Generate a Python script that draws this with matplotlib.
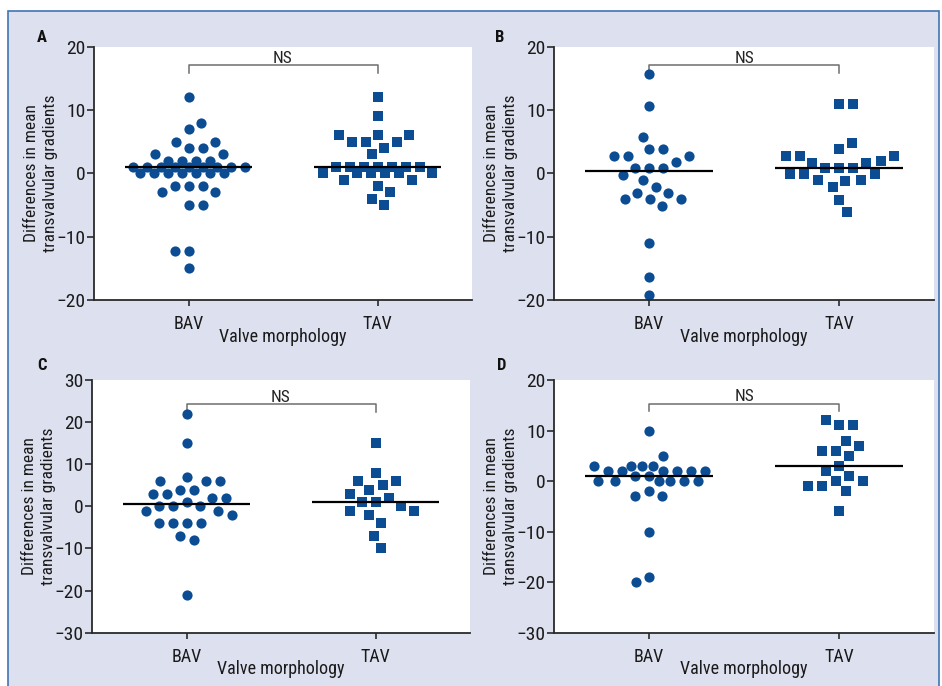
import numpy as np
import matplotlib
matplotlib.use("Agg")
import matplotlib.pyplot as plt
from matplotlib import font_manager
from matplotlib.patches import Rectangle
from matplotlib.transforms import ScaledTranslation

# condensed font if there is one
names = {f.name for f in font_manager.fontManager.ttflist}
fam = "Liberation Sans"
for cand in ["Liberation Sans Narrow", "Roboto Condensed", "Liberation Sans"]:
    if cand in names:
        fam = cand
        break
plt.rcParams["font.family"] = [fam, "DejaVu Sans"]
fs = 13 if fam != "Liberation Sans" else 12

groups = ["BAV", "TAV"]

# differences in mean transvalvular gradients
a_bav = [12, 8, 7, 5, 5, 4, 4, 3, 3, 2, 2, 2, 2, 1, 1, 1, 1, 1, 1, 1, 1, 1,
         0, 0, 0, 0, 0, 0, 0, -2, -2, -2, -3, -3, -5, -5, -12.3, -12.3, -15]
a_tav = [12, 9, 6, 6, 6, 5, 5, 5, 4, 3, 1, 1, 1, 1, 1, 1, 1,
         0, 0, 0, 0, 0, 0, -1, -1, -2, -3, -4, -5]
b_bav = [15.7, 10.7, 5.8, 3.8, 3.8, 2.8, 2.8, 2.8, 1.8, 0.9, 0.9, 0.9, -0.2,
         -1.1, -2.1, -3.1, -3.1, -4.1, -4.1, -4.1, -5.1, -11, -16.3, -19.2]
b_tav = [11, 11, 4.8, 3.8, 2.7, 2.7, 2.7, 1.9, 1.7, 1.7, 0.8, 0.8, 0.8,
         -0.1, -0.1, -0.1, -1.1, -1.1, -1.2, -2.2, -4.2, -6.1]
c_bav = [22, 15, 7, 6, 6, 6, 4, 4, 3, 3, 2, 2, 1, 0, 0, 0, -1, -1, -2,
         -4, -4, -4, -4, -7, -8, -21]
c_tav = [15, 8, 6, 6, 5, 4, 3, 2, 1, 1, 0, -1, -1, -2, -4, -7, -10]
d_bav = [10, 5, 3, 3, 3, 3, 2, 2, 2, 2, 2, 2, 1, 1, 0, 0, 0, 0, 0, 0,
         -2, -3, -3, -10, -19, -20]
d_tav = [12, 11, 11, 8, 7, 6, 6, 5, 3, 2, 1, 0, 0, -1, -1, -2, -6]

W, H = 942, 686
BLUE = "#0b4c92"

fig = plt.figure(figsize=(W / 100, H / 100), dpi=100, facecolor="white")
fig.patches.append(Rectangle((8 / W, -0.02), (939 - 8) / W, (H - 11) / H + 0.02,
                             transform=fig.transFigure, facecolor="#dde0ee",
                             edgecolor="#4273b4", lw=1.2, zorder=-10))


def swarm(ax, vals, d=14.0, maxw=58.0):
    # greedy beeswarm in pixels, median rows first, kept inside +-maxw
    sx = ax.bbox.width / np.ptp(ax.get_xlim())
    sy = ax.bbox.height / np.ptp(ax.get_ylim())
    ys = np.asarray(vals, float) * sy
    cand = np.arange(-maxw, maxw + 0.01, 0.5)
    order = np.argsort(np.abs(ys - np.median(ys)), kind="stable")
    px, py = [], []
    offs = np.zeros(len(ys))
    for i in order:
        if px:
            dist = np.sqrt((cand[:, None] - np.array(px)[None, :]) ** 2
                           + (ys[i] - np.array(py)[None, :]) ** 2).min(axis=1)
        else:
            dist = np.full(len(cand), np.inf)
        free = dist >= d
        if free.any():
            # nearest free spot, leaning to the emptier side
            lean = -1e-3 * np.sign(sum(px)) if px else 1e-3
            score = np.abs(cand) - lean * cand
            score[~free] = np.inf
            o = cand[np.argmin(score)]
        else:
            o = cand[np.argmax(dist - 1e-3 * np.abs(cand))]
        px.append(o)
        py.append(ys[i])
        offs[i] = o
    return offs / sx


panels = [
    ("A", 94, 46.7, 300, 378, (-20, 20), [-20, -10, 0, 10, 20], a_bav, a_tav, 17.1, (42, 37)),
    ("B", 554, 46.7, 300, 380, (-20, 20), [-20, -10, 0, 10, 20], b_bav, b_tav, 17.1, (500, 37)),
    ("C", 92, 380, 632.7, 378, (-30, 30), [-30, -20, -10, 0, 10, 20, 30], c_bav, c_tav, 24.3, (42, 365)),
    ("D", 554, 380, 632.7, 380, (-30, 20), [-30, -20, -10, 0, 10, 20], d_bav, d_tav, 15.3, (502, 365)),
]

for letter, left, top, bottom, width, ylim, yticks, bav, tav, ns_y, lpos in panels:
    ax = fig.add_axes([left / W, 1 - bottom / H, width / W, (bottom - top) / H])
    ax.set_facecolor("white")
    ax.set_xlim(-0.5, 1.5)
    ax.set_ylim(*ylim)
    sy = ax.bbox.height / np.ptp(ylim)

    for x0, vals, mk in [(0, bav, "o"), (1, tav, "s")]:
        offs = swarm(ax, vals)
        ax.scatter(x0 + offs, vals, s=54, marker=mk, color=BLUE, lw=0,
                   zorder=2, clip_on=False)
        ax.hlines(np.median(vals), x0 - 0.335, x0 + 0.335, color="black",
                  lw=1.6, zorder=3)

    # NS bracket
    drop = 7.5 / sy
    ax.plot([0, 0, 1, 1], [ns_y - drop, ns_y, ns_y, ns_y - drop], color="#6e6e6e",
            lw=1.1, clip_on=False, zorder=1)
    ax.text(0.5, ns_y + 2.5 / sy, "NS", ha="center", va="baseline",
            fontsize=fs - 0.5, color="#222222")

    for sp in ["top", "right"]:
        ax.spines[sp].set_visible(False)
    for sp in ["left", "bottom"]:
        ax.spines[sp].set_color("#2a2a2a")
        ax.spines[sp].set_linewidth(1.3)
    ax.set_yticks(yticks)
    ax.set_yticklabels([str(t).replace("-", "\u2212") for t in yticks])
    ax.set_xticks([0, 1])
    ax.set_xticklabels(groups)
    ax.tick_params(axis="y", direction="out", length=5, width=1.2, pad=1,
                   labelsize=fs + 1, colors="#2a2a2a", labelcolor="#1a1a1a")
    ax.tick_params(axis="x", direction="out", length=4, width=1.2, pad=7,
                   labelsize=fs, colors="#2a2a2a", labelcolor="#1a1a1a")

    xl_tr = ax.transAxes + ScaledTranslation(0, -41.5 / 100, fig.dpi_scale_trans)
    ax.text(0.5, 0, "Valve morphology", transform=xl_tr, ha="center",
            va="baseline", fontsize=fs, color="#1a1a1a")
    for dx, line in [(-62, "Differences in mean"), (-43, "transvalvular gradients")]:
        tr = ax.transAxes + ScaledTranslation(dx / 100, 0, fig.dpi_scale_trans)
        ax.text(0, 0.5, line, transform=tr, rotation=90, ha="center",
                va="center", fontsize=fs - 0.5, color="#1a1a1a")

    fig.text(lpos[0] / W, 1 - lpos[1] / H, letter, ha="center", va="center",
             fontsize=fs - 1, fontweight="bold", color="#111111")

fig.savefig("out.png", dpi=100, facecolor=fig.get_facecolor())
